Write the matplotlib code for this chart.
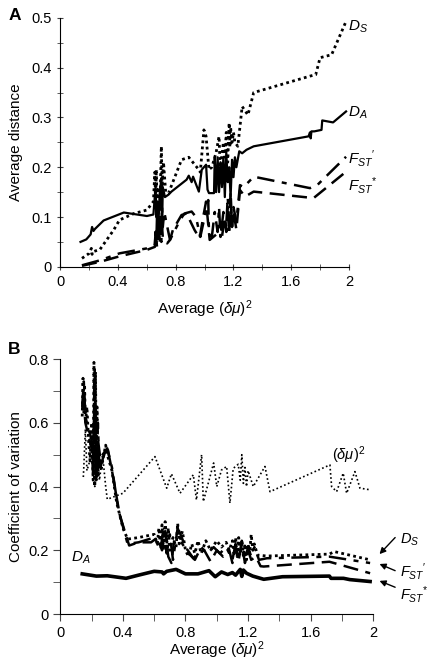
import matplotlib
matplotlib.use("Agg")
import matplotlib.pyplot as plt

plt.rcParams["font.family"] = ["Liberation Sans", "DejaVu Sans"]
plt.rcParams["mathtext.fontset"] = "custom"
plt.rcParams["mathtext.rm"] = "Liberation Sans"
plt.rcParams["mathtext.it"] = "Liberation Sans:italic"
plt.rcParams["mathtext.bf"] = "Liberation Sans:bold"

# ---- panel A: average distance ----
a_da_x = [0.14, 0.18, 0.21, 0.22, 0.23, 0.24, 0.30, 0.44, 0.60, 0.645, 0.66, 0.665, 0.67, 0.68,
          0.69, 0.70, 0.705, 0.71, 0.725, 0.75, 0.77, 0.875, 0.89, 0.91, 0.92, 0.96, 0.98, 1.01,
          1.02, 1.03, 1.065, 1.07, 1.08, 1.09, 1.10, 1.11, 1.12, 1.13, 1.14, 1.15, 1.16, 1.17,
          1.18, 1.19, 1.20, 1.21, 1.22, 1.24, 1.26, 1.29, 1.34, 1.72, 1.73, 1.735, 1.74, 1.76,
          1.81, 1.815, 1.89, 1.98]
a_da_y = [0.050, 0.055, 0.065, 0.080, 0.072, 0.076, 0.093, 0.109, 0.102, 0.105, 0.16, 0.10,
          0.13, 0.09, 0.15, 0.178, 0.075, 0.16, 0.14, 0.145, 0.151, 0.175, 0.183, 0.170, 0.181,
          0.151, 0.195, 0.205, 0.155, 0.148, 0.148, 0.22, 0.15, 0.22, 0.15, 0.21, 0.16, 0.22,
          0.14, 0.23, 0.17, 0.20, 0.14, 0.215, 0.18, 0.22, 0.20, 0.232, 0.228, 0.235, 0.242,
          0.262, 0.270, 0.258, 0.272, 0.272, 0.275, 0.294, 0.290, 0.312]

a_ds_x = [0.15, 0.20, 0.215, 0.22, 0.225, 0.275, 0.37, 0.41, 0.51, 0.60, 0.645, 0.655, 0.66,
          0.665, 0.67, 0.68, 0.69, 0.70, 0.705, 0.715, 0.73, 0.75, 0.84, 0.89, 0.96, 0.97,
          0.995, 1.01, 1.03, 1.05, 1.08, 1.10, 1.105, 1.11, 1.13, 1.14, 1.15, 1.16, 1.17,
          1.175, 1.18, 1.19, 1.20, 1.21, 1.23, 1.26, 1.30, 1.34, 1.73, 1.77, 1.80, 1.88, 1.98]
a_ds_y = [0.017, 0.027, 0.037, 0.025, 0.030, 0.035, 0.074, 0.094, 0.107, 0.114, 0.131, 0.19,
          0.12, 0.195, 0.13, 0.16, 0.12, 0.242, 0.16, 0.21, 0.15, 0.148, 0.215, 0.22, 0.195,
          0.19, 0.275, 0.262, 0.195, 0.20, 0.23, 0.262, 0.22, 0.20, 0.25, 0.22, 0.27, 0.21,
          0.289, 0.24, 0.28, 0.25, 0.27, 0.25, 0.242, 0.322, 0.305, 0.35, 0.383, 0.386, 0.42,
          0.426, 0.493]

a_fp_x = [0.15, 0.275, 0.41, 0.60, 0.655, 0.66, 0.665, 0.67, 0.68, 0.69, 0.70, 0.705, 0.71,
          0.72, 0.76, 0.83, 0.86, 0.91, 0.94, 0.97, 1.0, 1.025, 1.03, 1.05, 1.07, 1.09, 1.10,
          1.11, 1.13, 1.15, 1.16, 1.17, 1.18, 1.19, 1.20, 1.22, 1.245, 1.27, 1.34, 1.73, 1.78,
          1.98]
a_fp_y = [0.003, 0.013, 0.027, 0.037, 0.044, 0.07, 0.045, 0.10, 0.06, 0.12, 0.05, 0.121, 0.08,
          0.11, 0.054, 0.094, 0.107, 0.111, 0.10, 0.06, 0.10, 0.134, 0.07, 0.06, 0.11, 0.07,
          0.12, 0.06, 0.11, 0.08, 0.14, 0.09, 0.13, 0.08, 0.12, 0.09, 0.164, 0.16, 0.181, 0.158,
          0.164, 0.221]

a_fs_x = [0.15, 0.275, 0.41, 0.60, 0.655, 0.66, 0.67, 0.68, 0.69, 0.70, 0.71, 0.74, 0.76, 0.78,
          0.84, 0.875, 0.93, 0.965, 0.99, 1.01, 1.035, 1.06, 1.09, 1.11, 1.12, 1.14, 1.15, 1.16,
          1.17, 1.18, 1.19, 1.20, 1.22, 1.245, 1.28, 1.34, 1.755, 1.98]
a_fs_y = [0.002, 0.010, 0.021, 0.034, 0.040, 0.07, 0.04, 0.09, 0.05, 0.10, 0.06, 0.047, 0.054,
          0.074, 0.104, 0.107, 0.074, 0.057, 0.10, 0.131, 0.054, 0.06, 0.067, 0.09, 0.06, 0.10,
          0.07, 0.12, 0.065, 0.15, 0.08, 0.11, 0.075, 0.154, 0.141, 0.151, 0.138, 0.191]

# ---- panel B: coefficient of variation ----
b_da_x = [0.14, 0.23, 0.30, 0.42, 0.50, 0.60, 0.65, 0.66, 0.68, 0.74, 0.80, 0.88, 0.95, 0.99,
          1.03, 1.07, 1.10, 1.12, 1.15, 1.16, 1.17, 1.19, 1.23, 1.30, 1.42, 1.72, 1.73, 1.81,
          1.85, 1.98]
b_da_y = [0.126, 0.119, 0.120, 0.112, 0.122, 0.134, 0.132, 0.126, 0.134, 0.140, 0.126, 0.126,
          0.136, 0.117, 0.132, 0.124, 0.130, 0.122, 0.140, 0.118, 0.138, 0.128, 0.119, 0.109,
          0.117, 0.119, 0.112, 0.112, 0.108, 0.102]

b_ds_x = [0.14, 0.145, 0.15, 0.155, 0.16, 0.17, 0.18, 0.19, 0.20, 0.21, 0.215, 0.22, 0.225,
          0.23, 0.235, 0.24, 0.25, 0.26, 0.27, 0.29, 0.30, 0.33, 0.36, 0.40, 0.43, 0.50, 0.55,
          0.60, 0.62, 0.63, 0.64, 0.65, 0.66, 0.67, 0.68, 0.69, 0.70, 0.72, 0.74, 0.75, 0.76,
          0.78, 0.80, 0.82, 0.84, 0.86, 0.88, 0.90, 0.93, 0.96, 1.0, 1.03, 1.06, 1.08, 1.10,
          1.11, 1.12, 1.13, 1.14, 1.15, 1.16, 1.17, 1.18, 1.19, 1.20, 1.21, 1.22, 1.23, 1.24,
          1.26, 1.32, 1.72, 1.75, 1.98]
b_ds_y = [0.62, 0.74, 0.63, 0.72, 0.60, 0.65, 0.55, 0.48, 0.60, 0.42, 0.79, 0.40, 0.76, 0.45,
          0.65, 0.43, 0.50, 0.45, 0.48, 0.53, 0.50, 0.45, 0.35, 0.27, 0.235, 0.24, 0.245, 0.25,
          0.22, 0.27, 0.21, 0.28, 0.20, 0.29, 0.22, 0.27, 0.20, 0.24, 0.21, 0.285, 0.22, 0.26,
          0.20, 0.18, 0.22, 0.19, 0.23, 0.19, 0.23, 0.20, 0.23, 0.21, 0.225, 0.20, 0.23, 0.19,
          0.24, 0.18, 0.24, 0.19, 0.23, 0.18, 0.22, 0.17, 0.22, 0.19, 0.25, 0.20, 0.22, 0.185,
          0.182, 0.188, 0.196, 0.17]

b_fp_x = [0.14, 0.15, 0.16, 0.18, 0.20, 0.21, 0.22, 0.23, 0.24, 0.25, 0.27, 0.30, 0.33, 0.37,
          0.43, 0.50, 0.60, 0.64, 0.66, 0.68, 0.70, 0.72, 0.75, 0.78, 0.82, 0.86, 0.90, 0.94,
          0.98, 1.02, 1.06, 1.10, 1.12, 1.14, 1.16, 1.18, 1.20, 1.22, 1.24, 1.27, 1.32, 1.72,
          1.98]
b_fp_y = [0.65, 0.73, 0.62, 0.58, 0.55, 0.45, 0.77, 0.42, 0.60, 0.45, 0.50, 0.52, 0.46, 0.33,
          0.22, 0.225, 0.24, 0.20, 0.27, 0.19, 0.25, 0.17, 0.27, 0.22, 0.19, 0.17, 0.21, 0.19,
          0.21, 0.19, 0.21, 0.17, 0.22, 0.17, 0.23, 0.17, 0.21, 0.18, 0.21, 0.17, 0.175, 0.18,
          0.16]

b_fs_x = [0.14, 0.15, 0.16, 0.18, 0.20, 0.21, 0.22, 0.23, 0.24, 0.26, 0.28, 0.30, 0.33, 0.38,
          0.44, 0.50, 0.58, 0.62, 0.65, 0.67, 0.69, 0.71, 0.73, 0.76, 0.80, 0.85, 0.88, 0.92,
          0.96, 1.0, 1.04, 1.08, 1.10, 1.12, 1.14, 1.16, 1.18, 1.20, 1.22, 1.25, 1.28, 1.30,
          1.72, 1.98]
b_fs_y = [0.64, 0.70, 0.60, 0.56, 0.52, 0.44, 0.74, 0.43, 0.55, 0.47, 0.50, 0.525, 0.45, 0.31,
          0.215, 0.225, 0.225, 0.24, 0.20, 0.26, 0.18, 0.16, 0.24, 0.26, 0.21, 0.175, 0.19, 0.20,
          0.165, 0.20, 0.18, 0.20, 0.16, 0.21, 0.17, 0.22, 0.16, 0.20, 0.17, 0.18, 0.15, 0.149,
          0.164, 0.128]

b_du_x = [0.147, 0.15, 0.16, 0.17, 0.20, 0.22, 0.23, 0.25, 0.27, 0.29, 0.30, 0.40, 0.605, 0.68,
          0.71, 0.765, 0.85, 0.87, 0.903, 0.914, 0.98, 1.0, 1.03, 1.063, 1.084, 1.105, 1.137,
          1.15, 1.16, 1.17, 1.18, 1.19, 1.20, 1.22, 1.233, 1.308, 1.34, 1.723, 1.734, 1.766,
          1.808, 1.83, 1.883, 1.915, 1.978]
b_du_y = [0.43, 0.46, 0.58, 0.45, 0.50, 0.40, 0.55, 0.42, 0.50, 0.40, 0.36, 0.379, 0.494, 0.395,
          0.44, 0.379, 0.437, 0.358, 0.50, 0.353, 0.474, 0.40, 0.452, 0.463, 0.348, 0.457, 0.47,
          0.42, 0.50, 0.41, 0.46, 0.40, 0.45, 0.42, 0.40, 0.463, 0.384, 0.468, 0.40, 0.384,
          0.442, 0.379, 0.447, 0.395, 0.39]

xlabel = r"Average $(\mathit{\delta\mu})^2$"

fig = plt.figure(figsize=(4.34, 6.62), dpi=100)
ax1 = fig.add_axes([0.139, 0.597, 0.665, 0.376])
ax2 = fig.add_axes([0.139, 0.0725, 0.721, 0.385])

for ax in (ax1, ax2):
    ax.spines["top"].set_visible(False)
    ax.spines["right"].set_visible(False)
    ax.set_xlim(0, 2)
    ax.set_xticks([0, 0.4, 0.8, 1.2, 1.6, 2])
    ax.set_xticklabels(["0", "0.4", "0.8", "1.2", "1.6", "2"])
    ax.set_xticks([0.2, 0.6, 1.0, 1.4, 1.8], minor=True)
    ax.tick_params(labelsize=10.5, length=5, color="#444444")
    ax.tick_params(which="minor", length=5, color="#444444")

dots = dict(color="black", lw=2.0, linestyle=(0, (1, 1.2)))
dashdot = dict(color="black", lw=1.8, linestyle=(0, (7, 3, 2, 3)))
dashed = dict(color="black", lw=1.8, linestyle=(0, (6, 3)))

# panel A
ax1.plot(a_ds_x, a_ds_y, **dots)
ax1.plot(a_fp_x, a_fp_y, **dashdot)
ax1.plot(a_fs_x, a_fs_y, **dashed)
ax1.plot(a_da_x, a_da_y, color="black", lw=1.6)
ax1.set_ylim(0, 0.5)
ax1.set_yticks([0, 0.1, 0.2, 0.3, 0.4, 0.5])
ax1.set_yticklabels(["0", "0.1", "0.2", "0.3", "0.4", "0.5"])
ax1.set_yticks([0.05, 0.15, 0.25, 0.35, 0.45], minor=True)
ax1.tick_params(direction="inout")
ax1.tick_params(which="minor", direction="inout")
ax1.set_ylabel("Average distance", fontsize=11)
ax1.yaxis.set_label_coords(-0.13, 0.5)
ax1.set_xlabel(xlabel, fontsize=11)
ax1.xaxis.set_label_coords(0.5, -0.125)

for y, s in [(0.483, r"$D_S$"), (0.309, r"$D_A$"),
             (0.218, r"$F_{ST}{}^{\prime}$"), (0.164, r"$F_{ST}{}^{*}$")]:
    ax1.text(1.995, y, s, fontsize=11, ha="left", va="center", clip_on=False)

# panel B
ax2.plot(b_du_x, b_du_y, color="black", lw=1.2, linestyle=(0, (1, 1.5)))
ax2.plot(b_ds_x, b_ds_y, **dots)
ax2.plot(b_fp_x, b_fp_y, **dashdot)
ax2.plot(b_fs_x, b_fs_y, **dashed)
ax2.plot(b_da_x, b_da_y, color="black", lw=2.6)
ax2.set_ylim(0, 0.8)
ax2.set_yticks([0, 0.2, 0.4, 0.6, 0.8])
ax2.set_yticklabels(["0", "0.2", "0.4", "0.6", "0.8"])
ax2.set_yticks([0.1, 0.3, 0.5, 0.7], minor=True)
ax2.set_ylabel("Coefficient of variation", fontsize=11)
ax2.yaxis.set_label_coords(-0.12, 0.5)
ax2.set_xlabel(xlabel, fontsize=11)
ax2.xaxis.set_label_coords(0.5, -0.1)

ax2.text(1.84, 0.5, r"$(\mathit{\delta\mu})^2$", fontsize=10.5, ha="center", va="center")
ax2.text(0.07, 0.175, r"$D_A$", fontsize=11, ha="left", va="center")

for tip, tail, ty, s in [((2.04, 0.188), (2.14, 0.24), 0.232, r"$D_S$"),
                         ((2.04, 0.157), (2.14, 0.136), 0.134, r"$F_{ST}{}^{\prime}$"),
                         ((2.04, 0.104), (2.14, 0.084), 0.062, r"$F_{ST}{}^{*}$")]:
    ax2.annotate("", xy=tip, xytext=tail, annotation_clip=False,
                 arrowprops=dict(arrowstyle="-|>", color="black", lw=1.0,
                                 mutation_scale=9, shrinkA=0, shrinkB=0))
    ax2.text(tail[0] + 0.03, ty, s, fontsize=10.5, ha="left", va="center", clip_on=False)

fig.text(0.02, 0.988, "A", fontsize=12.5, fontweight="bold", ha="left", va="top")
fig.text(0.018, 0.483, "B", fontsize=12.5, fontweight="bold", ha="left", va="top")

fig.savefig("out.png", dpi=100)
